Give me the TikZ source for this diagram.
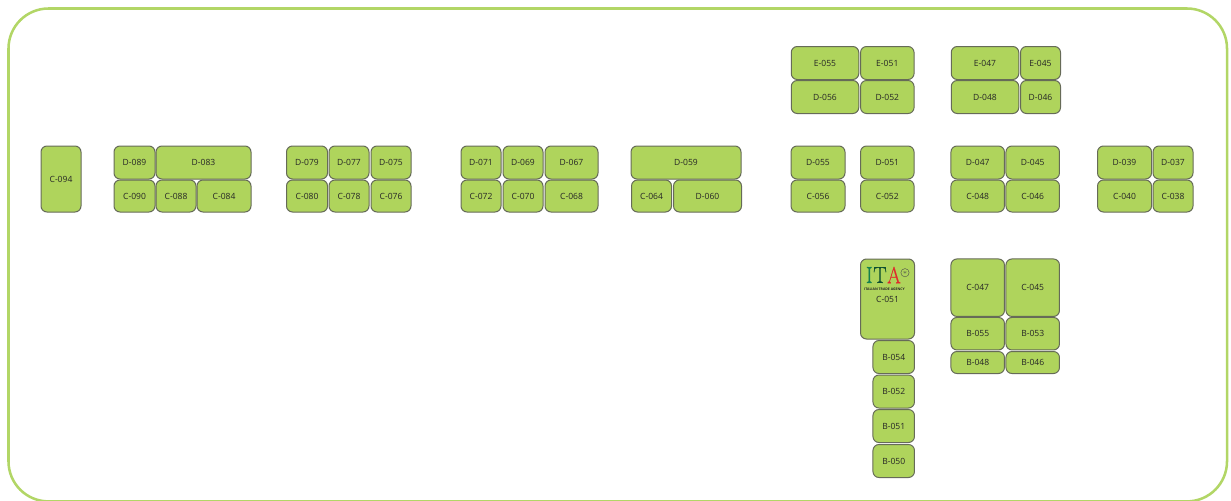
\documentclass[tikz,border=0pt]{standalone}
\usepackage{fontspec}
\setmainfont{Open Sans}
\newfontfamily\logofont[FakeBold=0.6]{Latin Modern Roman}
\definecolor{boothgreen}{HTML}{AFD45C}
\definecolor{boothedge}{HTML}{666B58}
\definecolor{hallgreen}{HTML}{B2D666}
\definecolor{logogreen}{HTML}{14804F}
\definecolor{logored}{HTML}{E0282C}
\tikzset{
  booth/.style n args={2}{
    draw=boothedge,
    fill=boothgreen,
    line width=0.75pt,
    rounded corners=4.5pt,
    inner sep=0pt,
    font=\fontsize{6.4}{7}\selectfont,
    text=black!85,
    minimum width=#1*0.75pt,
    minimum height=#2*0.75pt
  },
  hall wall/.style={
    draw=hallgreen,
    line width=1.9pt,
    rounded corners=30pt
  },
  logo letter/.style={
    inner sep=0pt,
    font=\logofont\fontsize{17.5}{17.5}\selectfont,
    xscale=0.85,
    transform shape
  },
  logo caption/.style={
    inner sep=0pt,
    font=\bfseries\fontsize{2.6}{3}\selectfont,
    text=black!85
  }
}
\begin{document}
\begin{tikzpicture}[x=0.75pt, y=-0.75pt]

  \useasboundingbox (0, 0) rectangle (1231, 500);

  %% ---- hall outline ----
  \draw[hall wall] (8.5, 8.5) rectangle (1227, 501.4);

  %% ---- single booth on the left ----
  \node[booth={40}{66}] (c094) at (61, 179) {C-094};

  %% ---- island D-089 ----
  \node[booth={41}{33}] (d089) at (134.5, 162.5) {D-089};
  \node[booth={95}{33}] (d083) at (203.5, 162.5) {D-083};
  \node[booth={41}{32}] (c090) at (134.5, 196) {C-090};
  \node[booth={40}{32}] (c088) at (176, 196) {C-088};
  \node[booth={54}{32}] (c084) at (224, 196) {C-084};

  %% ---- island D-079 ----
  \node[booth={41}{33}] (d079) at (307, 162.5) {D-079};
  \node[booth={40}{33}] (d077) at (349, 162.5) {D-077};
  \node[booth={40}{33}] (d075) at (391, 162.5) {D-075};
  \node[booth={41}{32}] (c080) at (307, 196) {C-080};
  \node[booth={40}{32}] (c078) at (349, 196) {C-078};
  \node[booth={40}{32}] (c076) at (391, 196) {C-076};

  %% ---- island D-071 ----
  \node[booth={40}{33}] (d071) at (481, 162.5) {D-071};
  \node[booth={40}{33}] (d069) at (523, 162.5) {D-069};
  \node[booth={53}{33}] (d067) at (571.5, 162.5) {D-067};
  \node[booth={40}{32}] (c072) at (481, 196) {C-072};
  \node[booth={40}{32}] (c070) at (523, 196) {C-070};
  \node[booth={53}{32}] (c068) at (571.5, 196) {C-068};

  %% ---- island D-059 ----
  \node[booth={110}{33}] (d059) at (686, 162.5) {D-059};
  \node[booth={40}{32}] (c064) at (651.5, 196) {C-064};
  \node[booth={68}{32}] (d060) at (707.5, 196) {D-060};

  %% ---- upper row, E booths ----
  \node[booth={67.5}{33}] (e055) at (825, 63) {E-055};
  \node[booth={53.5}{33}] (e051) at (887.3, 63) {E-051};
  \node[booth={67.5}{33}] (d056) at (825, 97) {D-056};
  \node[booth={53.5}{33}] (d052) at (887.3, 97) {D-052};
  \node[booth={67.5}{33}] (e047) at (985, 63) {E-047};
  \node[booth={40}{33}] (e045) at (1040.5, 63) {E-045};
  \node[booth={67.5}{33}] (d048) at (985, 97) {D-048};
  \node[booth={40}{33}] (d046) at (1040.5, 97) {D-046};

  %% ---- middle row, right part ----
  \node[booth={54}{33}] (d055) at (818, 162.5) {D-055};
  \node[booth={54}{32}] (c056) at (818, 196) {C-056};
  \node[booth={53.5}{33}] (d051) at (887.3, 162.5) {D-051};
  \node[booth={53.5}{32}] (c052) at (887.3, 196) {C-052};
  \node[booth={53.5}{33}] (d047) at (977.7, 162.5) {D-047};
  \node[booth={53.5}{33}] (d045) at (1032.7, 162.5) {D-045};
  \node[booth={53.5}{32}] (c048) at (977.7, 196) {C-048};
  \node[booth={53.5}{32}] (c046) at (1032.7, 196) {C-046};
  \node[booth={54}{33}] (d039) at (1124.5, 162.5) {D-039};
  \node[booth={40}{33}] (d037) at (1173, 162.5) {D-037};
  \node[booth={54}{32}] (c040) at (1124.5, 196) {C-040};
  \node[booth={40}{32}] (c038) at (1173, 196) {C-038};

  %% ---- C-051 with the logo and the B column under it ----
  \node[booth={54}{80}] (c051) at (887.5, 299) {C-051};
  \node[booth={41.5}{33}] (b054) at (893.7, 357) {B-054};
  \node[booth={41.5}{33}] (b052) at (893.7, 391.5) {B-052};
  \node[booth={41.5}{33}] (b051) at (893.7, 426) {B-051};
  \node[booth={41.5}{33}] (b050) at (893.7, 461) {B-050};

  \node[logo letter, text=logogreen] (logoi) at (869.3, 275) {I};
  \node[logo letter, text=logogreen!60!black] (logot) at (880, 275) {T};
  \node[logo letter, text=logored] (logoa) at (894, 275) {A};
  \node[logo caption] (logotext) at (884.5, 289) {ITALIAN TRADE AGENCY};
  \node[draw=black!70, circle, line width=0.3pt, minimum size=6.2pt, inner sep=0pt,
        font=\fontsize{4}{4}\selectfont, text=black!70] (logomark) at (905, 272.7) {$\ast$};

  %% ---- block C-047 ----
  \node[booth={53.5}{57.5}] (c047) at (977.7, 287.7) {C-047};
  \node[booth={53.5}{57.5}] (c045) at (1032.7, 287.7) {C-045};
  \node[booth={53.5}{32.5}] (b055) at (977.7, 333.7) {B-055};
  \node[booth={53.5}{32.5}] (b053) at (1032.7, 333.7) {B-053};
  \node[booth={53.5}{22}] (b048) at (977.7, 362.5) {B-048};
  \node[booth={53.5}{22}] (b046) at (1032.7, 362.5) {B-046};

\end{tikzpicture}
\end{document}
